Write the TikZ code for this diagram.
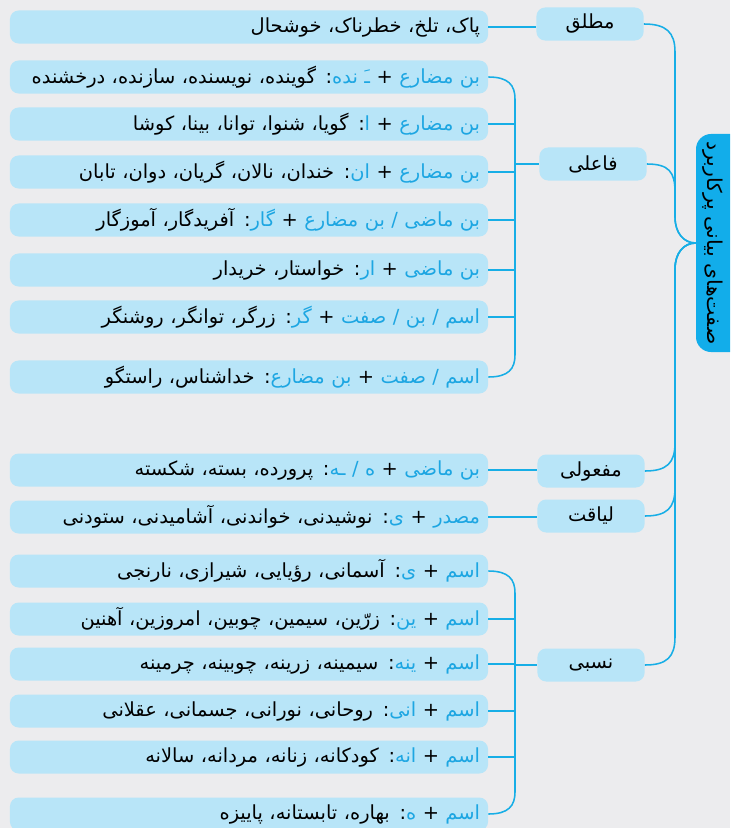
\documentclass[tikz,border=0pt]{standalone}
\usepackage{fontspec}
\usetikzlibrary{calc}
\newfontfamily\farsi[Script=Arabic]{DejaVu Sans}
\TeXXeTstate=1
\definecolor{bgc}{HTML}{ECECEE}
\definecolor{boxc}{HTML}{B8E5F8}
\definecolor{rootc}{HTML}{12ADEA}
\definecolor{linec}{HTML}{17AEE6}
\definecolor{termc}{HTML}{1DA6E2}
\newcommand{\fa}[1]{{\farsi\beginR #1\endR}}
% term A + term B: examples (pieces set left to right)
\newcommand{\frm}[3]{\fa{: #3}\textcolor{termc}{\fa{#2}}{\farsi\ +\ }\textcolor{termc}{\fa{#1}}}

\begin{document}
\begin{tikzpicture}[x=0.025cm,y=-0.025cm,font=\farsi\fontsize{13.8}{16}\selectfont,
leaf/.style={fill=boxc, rounded corners=0.22cm, text width=11.55cm, align=right, minimum height=0.825cm, inner xsep=0.2cm, inner ysep=0pt},
cat/.style={fill=boxc, rounded corners=0.22cm, minimum width=2.68cm, minimum height=0.825cm, inner sep=0pt},
rootbox/.style={fill=rootc, rounded corners=0.38cm, minimum width=1.6cm, minimum height=5.45cm},
conn/.style={draw=linec, line width=1.1pt}]
\clip (0,0) rectangle (730,828);
\fill[bgc] (0,0) rectangle (730,828);
% root
\node[rootbox] (root) at (728,243) {};
\node[rotate=-90, font=\farsi\fontsize{14.5}{16}\selectfont] (roottext) at (713,243) {\fa{صفت‌های بیانی پرکاربرد}};
% categories
\node[cat] (mutlaq) at (590,24) {\fa{مطلق}};
\node[cat] (faeli) at (593,164) {\fa{فاعلی}};
\node[cat] (mafuli) at (591,471) {\fa{مفعولی}};
\node[cat] (liyaqat) at (591,516) {\fa{لیاقت}};
\node[cat] (nesbi) at (591,665) {\fa{نسبی}};
% leaves
\node[leaf] (mut1) at (249,27) {\fa{پاک، تلخ، خطرناک، خوشحال}};
\node[leaf] (fa1) at (249,77) {\frm{بن مضارع}{ـَ نده}{گوینده، نویسنده، سازنده، درخشنده}};
\node[leaf] (fa2) at (249,124) {\frm{بن مضارع}{ا}{گویا، شنوا، توانا، بینا، کوشا}};
\node[leaf] (fa3) at (249,172) {\frm{بن مضارع}{ان}{خندان، نالان، گریان، دوان، تابان}};
\node[leaf] (fa4) at (249,220) {\frm{بن ماضی / بن مضارع}{گار}{آفریدگار، آموزگار}};
\node[leaf] (fa5) at (249,270) {\frm{بن ماضی}{ار}{خواستار، خریدار}};
\node[leaf] (fa6) at (249,317) {\frm{اسم / بن / صفت}{گر}{زرگر، توانگر، روشنگر}};
\node[leaf] (fa7) at (249,377) {\frm{اسم / صفت}{بن مضارع}{خداشناس، راستگو}};
\node[leaf] (maf1) at (249,470) {\frm{بن ماضی}{ه / ـه}{پرورده، بسته، شکسته}};
\node[leaf] (liy1) at (249,517) {\frm{مصدر}{ی}{نوشیدنی، خواندنی، آشامیدنی، ستودنی}};
\node[leaf] (nas1) at (249,571) {\frm{اسم}{ی}{آسمانی، رؤیایی، شیرازی، نارنجی}};
\node[leaf] (nas2) at (249,619) {\frm{اسم}{ین}{زرّین، سیمین، چوبین، امروزین، آهنین}};
\node[leaf] (nas3) at (249,664) {\frm{اسم}{ینه}{سیمینه، زرینه، چوبینه، چرمینه}};
\node[leaf] (nas4) at (249,711) {\frm{اسم}{انی}{روحانی، نورانی، جسمانی، عقلانی}};
\node[leaf] (nas5) at (249,757) {\frm{اسم}{انه}{کودکانه، زنانه، مردانه، سالانه}};
\node[leaf] (nas6) at (249,814) {\frm{اسم}{ه}{بهاره، تابستانه، پاییزه}};
% connectors
\coordinate (rsp) at (675,243);\coordinate (fsp) at (515,164);\coordinate (nsp) at (515,665);
\foreach \c/\s in {mutlaq/1,faeli/1,mafuli/-1,liyaqat/-1,nesbi/-1}
  \draw[conn] (\c.east) .. controls +(22,0) and +(0,-20*\s) .. ($(\c.east -| rsp)+(0,28*\s)$) -- ($(rsp)+(0,-26*\s)$) .. controls +(0,16*\s) and +(-12,0) .. (root.west);
\foreach \a/\b in {mut1/mutlaq,maf1/mafuli,liy1/liyaqat} \draw[conn] (\a.east) -- (\a.east -| \b.west);
\foreach \f/\l/\p/\k in {fa1/fa7/fsp/faeli,nas1/nas6/nsp/nesbi}{
  \draw[conn] (\f.east) .. controls +(20,0) and +(0,-14) .. ($(\f.east -| \p)+(0,22)$) -- ($(\l.east -| \p)+(0,-22)$) .. controls +(0,14) and +(20,0) .. (\l.east);
  \draw[conn] (\p) -- (\k.west);}
\foreach \n in {fa2,fa3,fa4,fa5,fa6,nas2,nas3,nas4,nas5} \draw[conn] (\n.east) -- (\n.east -| fsp);
\end{tikzpicture}
\end{document}
